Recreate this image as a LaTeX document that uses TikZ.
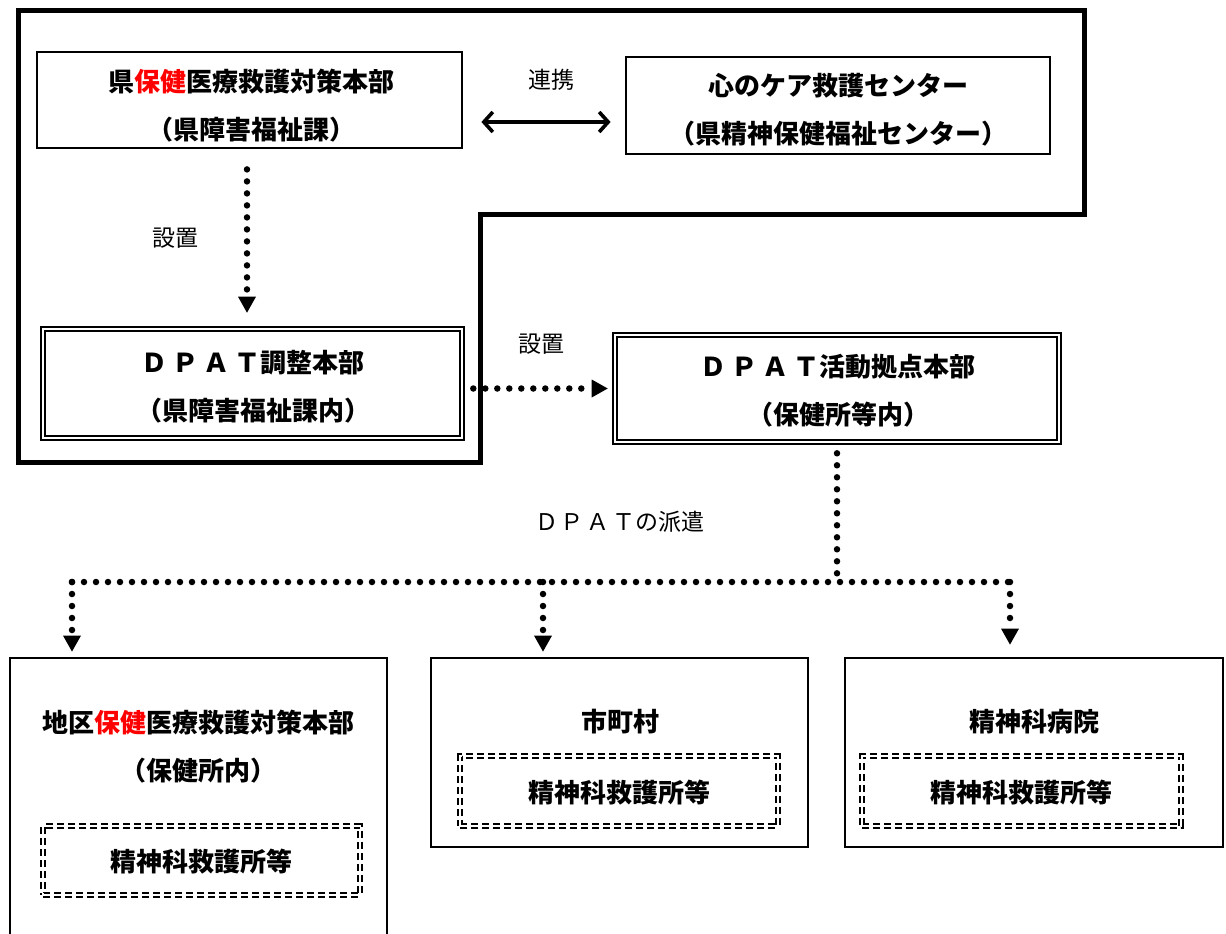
\documentclass[tikz,border=0pt]{standalone}
\usepackage{fontspec}
\setmainfont{Noto Sans CJK JP}
\usetikzlibrary{arrows.meta}
\definecolor{hred}{RGB}{255,0,0}
\tikzset{
  box/.style={draw, line width=2.8pt, inner sep=0pt},
  dbox/.style={draw, line width=2.6pt, inner sep=0pt},
  dashbox/.style={draw, line width=1.6pt, double, double distance=2.2pt, dash pattern=on 7pt off 4pt, inner sep=0pt},
  btxt/.style={font=\fontsize{26}{48}\selectfont\bfseries, align=center, inner sep=0pt},
  rtxt/.style={font=\fontsize{23}{28}\selectfont, inner sep=0pt},
  dotline/.style={line width=6.5pt, line cap=round, dash pattern=on 0pt off 12pt},
  dotarrow/.style={dotline, -{Triangle[length=16pt,width=18pt,line width=0pt]}},
}
\begin{document}
\begin{tikzpicture}[x=1pt,y=-1pt]
\useasboundingbox (0,0) rectangle (1226,934);
% big L-shaped outline
\draw[line width=5pt, line join=miter] (18,11) -- (1084,11) -- (1084,214) -- (480,214) -- (480,462) -- (18,462) -- cycle;
% boxes
\node[box, minimum width=425pt, minimum height=96pt] (A) at (249.5,100) {};
\node[box, minimum width=424pt, minimum height=97pt] (B) at (838,105.5) {};
\node[dbox, minimum width=423pt, minimum height=113pt] (C) at (252.5,383.5) {};
\node[dbox, minimum width=448pt, minimum height=111pt] (D) at (837,388.5) {};
\draw[line width=1.9pt] ([shift={(5,5)}]C.north west) rectangle ([shift={(-5,-5)}]C.south east);
\draw[line width=1.9pt] ([shift={(5,5)}]D.north west) rectangle ([shift={(-5,-5)}]D.south east);
\node[box, minimum width=377pt, minimum height=290pt] (E) at (198.5,803) {};
\node[box, minimum width=377pt, minimum height=189pt] (F) at (619.5,752.5) {};
\node[box, minimum width=378pt, minimum height=189pt] (G) at (1034,752.5) {};
\node[dashbox, minimum width=317pt, minimum height=69pt] (E2) at (201.5,860.5) {};
\node[dashbox, minimum width=318pt, minimum height=70pt] (F2) at (619,791) {};
\node[dashbox, minimum width=319pt, minimum height=70pt] (G2) at (1021.5,791) {};
% texts
\node[btxt] (tA) at (251,106) {県\textcolor{hred}{保健}医療救護対策本部\\（県障害福祉課）};
\node[btxt] (tB) at (838,110) {心のケア救護センター\\（県精神保健福祉センター）};
\node[btxt] (tC) at (253,386.5) {Ｄ\kern5ptＰ\kern5ptＡ\kern5ptＴ調整本部\\（県障害福祉課内）};
\node[btxt] (tD) at (838,391) {Ｄ\kern5ptＰ\kern5ptＡ\kern5ptＴ活動拠点本部\\（保健所等内）};
\node[btxt] (tE) at (198,747) {地区\textcolor{hred}{保健}医療救護対策本部\\（保健所内）};
\node[btxt] (tE2) at (201,862) {精神科救護所等};
\node[btxt] (tF) at (620,722) {市町村};
\node[btxt] (tF2) at (619,793) {精神科救護所等};
\node[btxt] (tG) at (1034,722) {精神科病院};
\node[btxt] (tG2) at (1021,793) {精神科救護所等};
\node[rtxt] (l1) at (551,80) {連携};
\node[rtxt] (l2) at (175,238) {設置};
\node[rtxt] (l3) at (541,344) {設置};
\node[rtxt] (l4) at (620,522) {Ｄ\kern3ptＰ\kern3ptＡ\kern3ptＴの派遣};
% connectors
\draw[line width=3.6pt, {Straight Barb[length=9pt,width=20pt]}-{Straight Barb[length=9pt,width=20pt]}, shorten <=18pt, shorten >=14pt]
  ([yshift=-22pt]A.east) -- ([yshift=-22pt]A.east -| B.west);
\draw[dotarrow, shorten <=20pt, shorten >=13pt] ([xshift=-2.5pt]A.south) -- ([xshift=-2.5pt]A.south |- C.north);
\draw[dotarrow, shorten <=8pt, shorten >=4pt] (C.east |- D.west) -- (D.west);
\coordinate (hub) at (D.south |- 0,582);
\coordinate (jE) at (72,582);
\coordinate (jF) at (543,582);
\coordinate (jG) at (1010,582);
\draw[dotline, shorten <=8pt] (D.south) -- (hub);
\draw[dotline] (jE) -- (jG);
\draw[dotarrow, shorten >=5pt] (jE) -- (jE |- E.north);
\draw[dotarrow, shorten >=5pt] (jF) -- (jF |- F.north);
\draw[dotarrow, shorten >=12pt] (jG) -- (jG |- G.north);
\end{tikzpicture}
\end{document}
